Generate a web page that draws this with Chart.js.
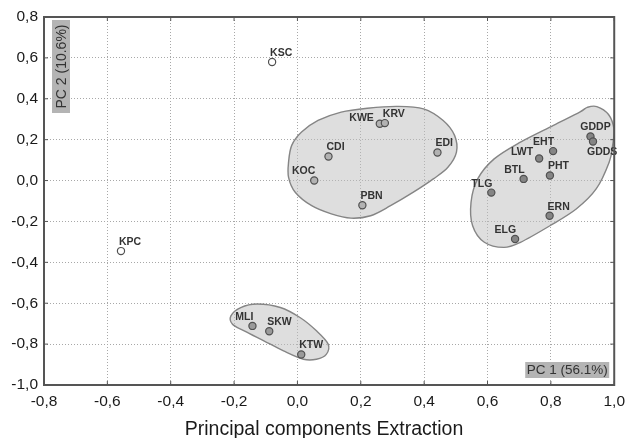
<!DOCTYPE html>
<html>
<head>
<meta charset="utf-8">
<script src="https://cdn.jsdelivr.net/npm/chart.js@4.4.0/dist/chart.umd.min.js"></script>
<style>
    html, body { margin: 0; padding: 0; background: #fff; }
    #wrap { width: 632px; height: 438px; }
</style>
</head>
<body>
<div id="wrap"><canvas id="pcaChart" width="632" height="438"></canvas></div>
<script>
// Valeurs
const pointNames = ["KSC", "KPC", "KOC", "CDI", "KWE", "KRV", "EDI", "PBN", "TLG", "BTL",
                    "LWT", "EHT", "PHT", "GDDP", "GDDS", "ERN", "ELG", "MLI", "SKW", "KTW"];
const pc1 = [-0.08, -0.557, 0.053, 0.098, 0.26, 0.276, 0.442, 0.205, 0.612, 0.714,
             0.763, 0.807, 0.797, 0.925, 0.933, 0.796, 0.687, -0.142, -0.089, 0.012];
const pc2 = [0.58, -0.345, 0.0, 0.118, 0.278, 0.281, 0.137, -0.121, -0.059, 0.008,
             0.108, 0.144, 0.025, 0.216, 0.191, -0.172, -0.286, -0.711, -0.737, -0.851];
const groups = [0, 0, 1, 1, 1, 1, 1, 1, 2, 2, 2, 2, 2, 2, 2, 2, 2, 3, 3, 3];

// Contours des groupes (coordonnées des données)
const hull1X = [-0.028, -0.018, 0.013, 0.065, 0.138, 0.221, 0.315, 0.398, 0.46, 0.496, 0.502,
                0.475, 0.429, 0.366, 0.294, 0.231, 0.169, 0.107, 0.045, -0.007, -0.028];
const hull1Y = [0.09, 0.172, 0.237, 0.294, 0.335, 0.354, 0.363, 0.351, 0.294, 0.221, 0.139,
                0.065, 0.008, -0.057, -0.123, -0.172, -0.184, -0.163, -0.123, -0.057, 0.016];
const hull2X = [0.945, 0.982, 0.999, 0.995, 0.984, 0.943, 0.88, 0.797, 0.704, 0.652, 0.59,
                0.553, 0.548, 0.569, 0.621, 0.704, 0.808, 0.891, 0.915];
const hull2Y = [0.362, 0.323, 0.253, 0.172, 0.09, -0.041, -0.139, -0.221, -0.302, -0.327, -0.302,
                -0.221, -0.106, 0.008, 0.106, 0.188, 0.27, 0.335, 0.358];
const hull3X = [-0.21, -0.179, -0.127, -0.054, 0.008, 0.06, 0.097, 0.091, 0.06, 0.019,
                -0.044, -0.106, -0.168, -0.205];
const hull3Y = [-0.662, -0.621, -0.604, -0.621, -0.67, -0.735, -0.8, -0.85, -0.874, -0.874,
                -0.833, -0.784, -0.735, -0.703];

const xTickLabels = ["-0,8", "-0,6", "-0,4", "-0,2", "0,0", "0,2", "0,4", "0,6", "0,8", "1,0"];
const yTickLabels = ["-1,0", "-0,8", "-0,6", "-0,4", "-0,2", "0,0", "0,2", "0,4", "0,6", "0,8"];
const xTitle = "Principal components Extraction";

// Styles
const groupColors = ["#ffffff", "#b2b2b2", "#858585", "#9a9a9a"];
const labelAnchors = ["ne", "ne", "nw", "ne", "nww", "ne", "ne", "ne", "nw", "nw",
                      "nww", "nw", "ne", "n", "s", "ne", "nw", "nw", "ne", "ne"];
const fontFamily = "'Liberation Sans', Arial, sans-serif";

const points = pc1.map((x, i) => ({ x: x, y: pc2[i] }));

// Dessine les contours lissés des groupes
const hullPlugin = {
    id: "hulls",
    beforeDatasetsDraw(chart) {
        const { ctx, scales } = chart;
        const hulls = [[hull1X, hull1Y], [hull2X, hull2Y], [hull3X, hull3Y]];
        hulls.forEach(([hx, hy]) => {
            const p = hx.map((v, i) => ({ x: scales.x.getPixelForValue(v), y: scales.y.getPixelForValue(hy[i]) }));
            const n = p.length;
            ctx.save();
            ctx.beginPath();
            ctx.moveTo(p[0].x, p[0].y);
            for (let i = 0; i < n; i++) {
                const p0 = p[(i - 1 + n) % n], p1 = p[i], p2 = p[(i + 1) % n], p3 = p[(i + 2) % n];
                ctx.bezierCurveTo(
                    p1.x + (p2.x - p0.x) / 6, p1.y + (p2.y - p0.y) / 6,
                    p2.x - (p3.x - p1.x) / 6, p2.y - (p3.y - p1.y) / 6,
                    p2.x, p2.y);
            }
            ctx.closePath();
            ctx.fillStyle = "rgba(190, 190, 190, 0.5)";
            ctx.fill();
            ctx.lineWidth = 1.4;
            ctx.strokeStyle = "#858585";
            ctx.stroke();
            ctx.restore();
        });
    }
};

// Cadre, petites graduations, étiquettes des points, encadrés PC et titre
const decorPlugin = {
    id: "decor",
    afterDatasetsDraw(chart) {
        const { ctx, chartArea: a, scales } = chart;
        const meta = chart.getDatasetMeta(0);

        ctx.save();
        ctx.font = "bold 10.5px " + fontFamily;
        ctx.fillStyle = "#333";
        ctx.textBaseline = "middle";
        meta.data.forEach((el, i) => {
            const anc = labelAnchors[i];
            if (anc === "ne") { ctx.textAlign = "left"; ctx.fillText(pointNames[i], el.x - 2, el.y - 9); }
            else if (anc === "nw") { ctx.textAlign = "right"; ctx.fillText(pointNames[i], el.x + 1, el.y - 9); }
            else if (anc === "nww") { ctx.textAlign = "right"; ctx.fillText(pointNames[i], el.x - 6, el.y - 6); }
            else if (anc === "n") { ctx.textAlign = "center"; ctx.fillText(pointNames[i], el.x + 5, el.y - 9); }
            else { ctx.textAlign = "left"; ctx.fillText(pointNames[i], el.x - 6, el.y + 11); }
        });

        // encadré PC 2
        ctx.fillStyle = "#b4b4b4";
        ctx.fillRect(a.left + 8, a.top + 3, 18, 93);
        ctx.save();
        ctx.translate(a.left + 17, a.top + 49.5);
        ctx.rotate(-Math.PI / 2);
        ctx.font = "14px " + fontFamily;
        ctx.fillStyle = "#333";
        ctx.textAlign = "center";
        ctx.fillText("PC 2 (10.6%)", 0, 1);
        ctx.restore();

        // encadré PC 1
        ctx.fillStyle = "#b4b4b4";
        ctx.fillRect(a.right - 89, a.bottom - 23, 84, 16);
        ctx.font = "13.5px " + fontFamily;
        ctx.fillStyle = "#333";
        ctx.textAlign = "center";
        ctx.fillText("PC 1 (56.1%)", a.right - 47, a.bottom - 14.5);

        // cadre
        ctx.strokeStyle = "#555";
        ctx.lineWidth = 2;
        ctx.strokeRect(a.left, a.top, a.right - a.left, a.bottom - a.top);

        // graduations intérieures
        ctx.lineWidth = 1;
        ctx.beginPath();
        scales.x.ticks.forEach(t => {
            const x = scales.x.getPixelForValue(t.value);
            ctx.moveTo(x, a.bottom); ctx.lineTo(x, a.bottom - 4);
            ctx.moveTo(x, a.top); ctx.lineTo(x, a.top + 4);
        });
        scales.y.ticks.forEach(t => {
            const y = scales.y.getPixelForValue(t.value);
            ctx.moveTo(a.left, y); ctx.lineTo(a.left + 4, y);
            ctx.moveTo(a.right, y); ctx.lineTo(a.right - 4, y);
        });
        ctx.stroke();

        // titre de l'axe X
        ctx.font = "19.5px " + fontFamily;
        ctx.fillStyle = "#1a1a1a";
        ctx.textAlign = "center";
        ctx.textBaseline = "alphabetic";
        ctx.fillText(xTitle, 324, 435);
        ctx.restore();
    }
};

const tickFont = { family: fontFamily, size: 15.5 };

new Chart(document.getElementById("pcaChart"), {
    type: "scatter",
    data: {
        datasets: [{
            data: points,
            pointRadius: 3.6,
            pointHoverRadius: 3.6,
            pointBorderWidth: 1.2,
            pointBorderColor: "#505050",
            pointBackgroundColor: groups.map(g => groupColors[g])
        }]
    },
    options: {
        responsive: false,
        animation: false,
        events: [],
        layout: { padding: { top: 17, right: 10, left: 0, bottom: 0 } },
        plugins: { legend: { display: false }, tooltip: { enabled: false } },
        scales: {
            x: {
                min: -0.8,
                max: 1.0,
                afterFit: scale => { scale.height = 53; },
                ticks: {
                    stepSize: 0.2,
                    padding: 7,
                    color: "#1a1a1a",
                    font: tickFont,
                    maxRotation: 0,
                    autoSkip: false,
                    callback: (v, i) => xTickLabels[i]
                },
                grid: { color: "#a8a8a8", lineWidth: 1, drawTicks: false },
                border: { display: false, dash: [1, 2] }
            },
            y: {
                min: -1.0,
                max: 0.8,
                afterFit: scale => { scale.width = 44; },
                ticks: {
                    stepSize: 0.2,
                    padding: 6,
                    color: "#1a1a1a",
                    font: tickFont,
                    autoSkip: false,
                    callback: (v, i) => yTickLabels[i]
                },
                grid: { color: "#a8a8a8", lineWidth: 1, drawTicks: false },
                border: { display: false, dash: [1, 2] }
            }
        }
    },
    plugins: [hullPlugin, decorPlugin]
});
</script>
</body>
</html>
